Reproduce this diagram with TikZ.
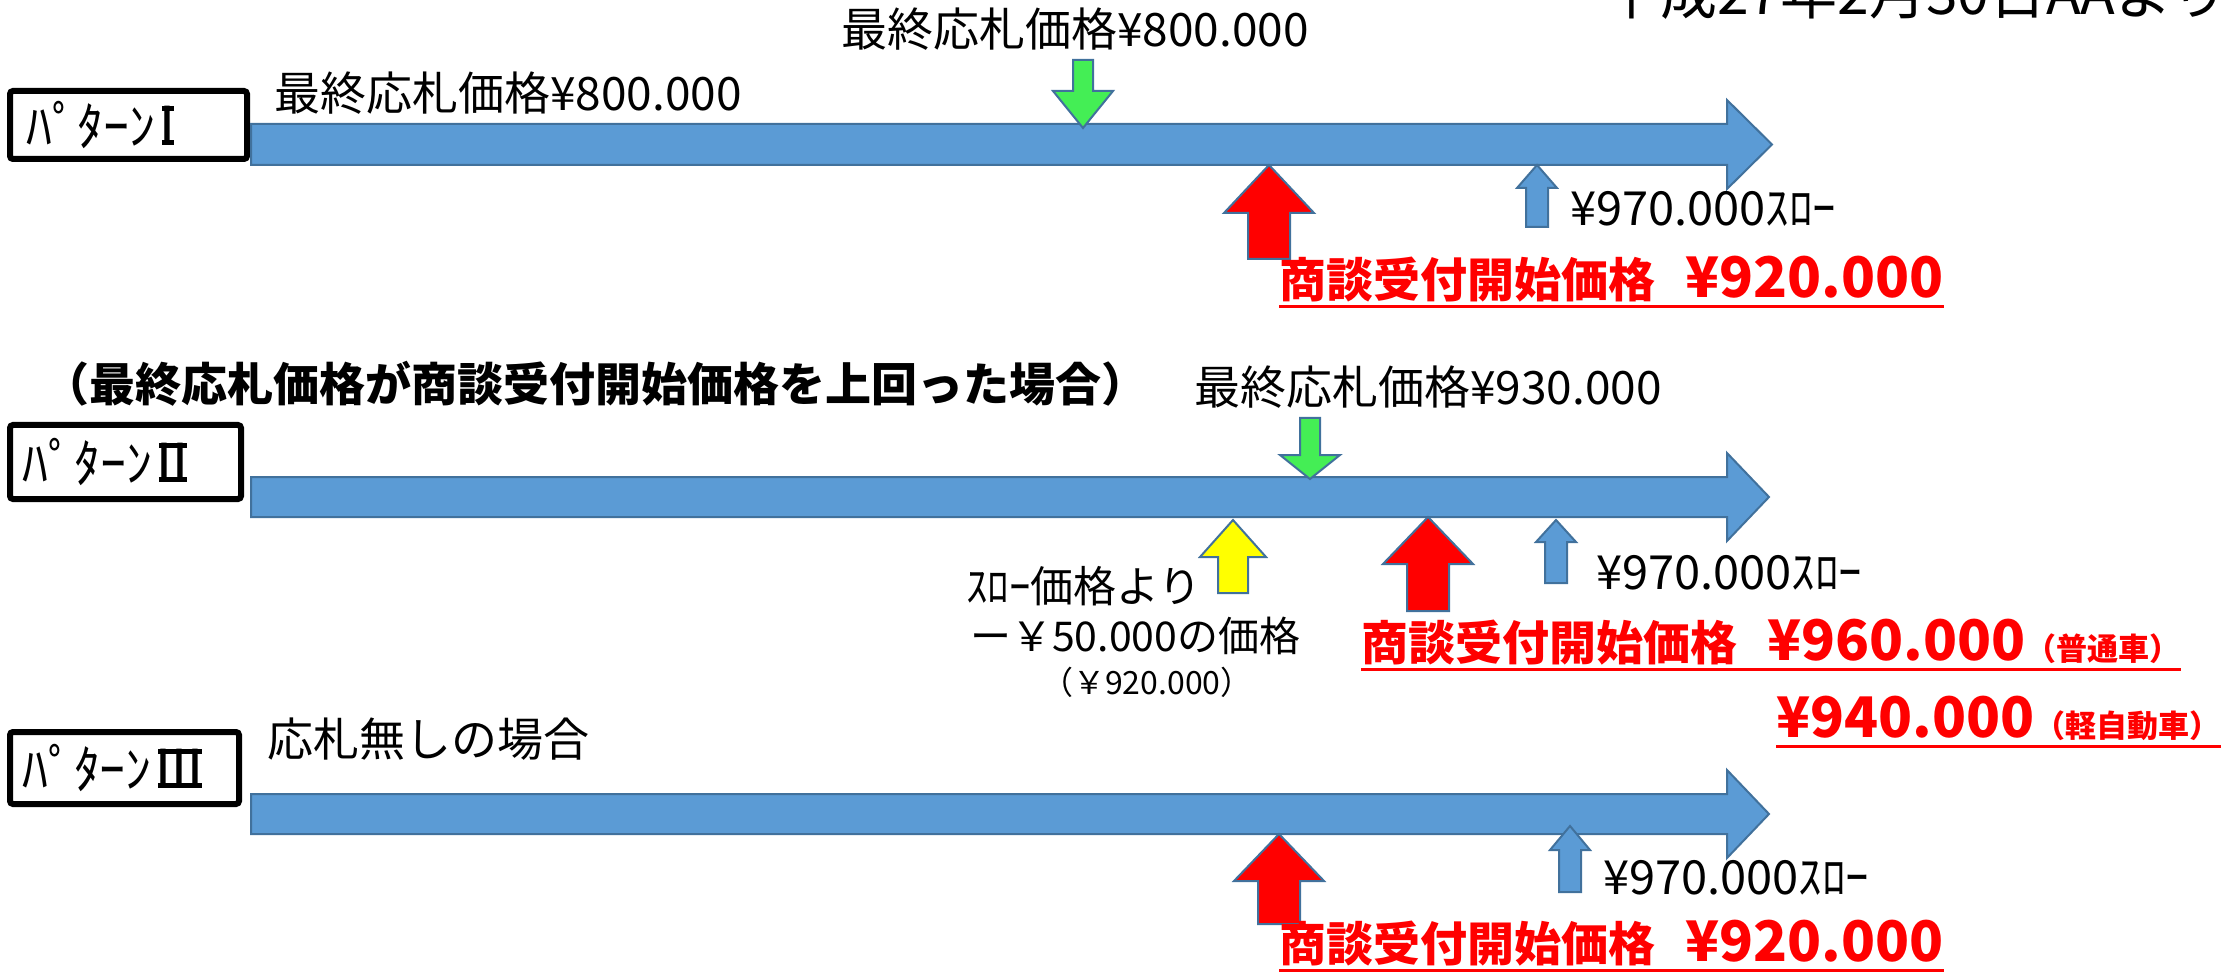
\documentclass[tikz,border=0pt]{standalone}
\usepackage{fontspec}
\setmainfont{Noto Sans CJK JP}
\newfontfamily\romfont{DejaVu Sans}
\definecolor{barblue}{HTML}{5B9BD5}
\definecolor{edgeblue}{HTML}{41719C}
\definecolor{grn}{HTML}{44EE55}
\definecolor{ylw}{HTML}{FFFF00}
\definecolor{rd}{HTML}{FF0000}
\tikzset{
  lbl/.style={anchor=base west, inner sep=0pt, font=\fontsize{46}{50}\selectfont},
  slowlbl/.style={anchor=base west, inner sep=0pt, font=\fontsize{47}{52}\selectfont},
  redtxt/.style={anchor=base west, inner sep=0pt, text=rd, font=\bfseries\fontsize{47}{52}\selectfont},
  uline/.style={draw=rd, line width=3pt},
  patbox/.style={draw, line width=6pt, rounded corners=3pt, inner sep=0pt,
    text width=205pt, align=left, font=\fontsize{52}{56}\selectfont},
  blockshape/.style={draw=edgeblue, line width=2pt, line join=miter},
}
% block arrow: cx, tip y, head base y, tail y, head half width, shaft half width, fill
\newcommand\blockup[7]{%
  \filldraw[blockshape, fill=#7] (#1-#6,#4) -- (#1-#6,#3) -- (#1-#5,#3) -- (#1,#2)
    -- (#1+#5,#3) -- (#1+#6,#3) -- (#1+#6,#4) -- cycle;}
% big bar: x0, shaft end x, tip x, shaft top, shaft bottom, head top, head bottom, tip y
\newcommand\bigbar[8]{%
  \filldraw[blockshape, fill=barblue] (#1,#4) -- (#2,#4) -- (#2,#6) -- (#3,#8)
    -- (#2,#7) -- (#2,#5) -- (#1,#5) -- cycle;}
\newcommand\bigd[1]{{\fontsize{56}{60}\selectfont #1}}
\newcommand\smallp[1]{{\fontsize{31}{36}\selectfont #1}}
% Roman numeral with top and bottom bars, as printed in the reference
\newcommand\patnum[1]{\hspace{6pt}{\romfont\fontsize{54}{58}\selectfont
  \setbox0\hbox{\kern-2pt#1\kern-2pt}%
  \rlap{\rule{\wd0}{5pt}}\rlap{\rule[34.4pt]{\wd0}{5pt}}\box0}}
\begin{document}
\begin{tikzpicture}[x=1pt,y=-1pt]
\useasboundingbox (0,0) rectangle (2228,973);
\begin{scope}
\clip (0,0) rectangle (2228,973);
\node[anchor=base west, inner sep=0pt, font=\fontsize{57}{60}\selectfont] (date) at (1603,15) {平成27年2月30日AAより};
\end{scope}

% ---------- Pattern I ----------
\node[patbox, minimum width=237pt, minimum height=68pt] (p1) at (128.5,125) {ﾊﾟﾀｰﾝ\patnum{I}};
\bigbar{251}{1727}{1772}{124}{165}{100}{189}{144.5}
\node[lbl] (l1a) at (274,111) {最終応札価格¥800.000};
\node[lbl] (l1b) at (841,47) {最終応札価格¥800.000};
\blockup{1083}{128}{91}{60}{30}{10}{grn}
\blockup{1269}{165}{213}{259}{45}{21}{rd}
\blockup{1537}{165}{188}{227}{20}{11}{barblue}
\node[slowlbl] (s1) at (1570,226) {¥970.000ｽﾛｰ};
\node[redtxt] (r1) at (1279,298) {商談受付開始価格\hspace{30pt}\bigd{¥920.000}};
\draw[uline] ([yshift=-9pt]r1.base west) -- ([yshift=-9pt]r1.base east);

% ---------- Pattern II ----------
\node[anchor=base west, inner sep=0pt, font=\bfseries\fontsize{46}{50}\selectfont] (h2) at (43,402) {（最終応札価格が商談受付開始価格を上回った場合）};
\node[lbl] (l2b) at (1194,405) {最終応札価格¥930.000};
\node[patbox, minimum width=231pt, minimum height=74pt] (p2) at (125.5,462) {ﾊﾟﾀｰﾝ\patnum{II}};
\bigbar{251}{1727}{1769}{477}{517}{453}{541}{497}
\blockup{1310}{479}{455}{418}{30}{10}{grn}
\blockup{1233}{520}{557}{593}{33}{15}{ylw}
\blockup{1428}{517}{564}{611}{45}{21}{rd}
\blockup{1556}{520}{542}{583}{20}{11}{barblue}
\node[slowlbl] (s2) at (1596,589) {¥970.000ｽﾛｰ};
\node[anchor=base west, inner sep=0pt, font=\fontsize{43}{48}\selectfont] (y1) at (966,602) {ｽﾛｰ価格より};
\node[anchor=base west, inner sep=0pt, font=\fontsize{41}{46}\selectfont] (y2) at (970,651) {ー￥50.000の価格};
\node[anchor=base west, inner sep=0pt, font=\fontsize{32}{36}\selectfont] (y3) at (1041,694) {（￥920.000）};
\node[redtxt] (r2) at (1361,660) {商談受付開始価格\hspace{30pt}\bigd{¥960.000}\smallp{（普通車）}};
\draw[uline] ([yshift=-9pt]r2.base west) -- ([yshift=-9pt]r2.base east);
\node[redtxt] (r2b) at (1776,737) {\bigd{¥940.000}\smallp{（軽自動車）}};
\draw[uline] ([yshift=-9pt]r2b.base west) -- ([yshift=-9pt]r2b.base east);

% ---------- Pattern III ----------
\node[patbox, minimum width=229pt, minimum height=72pt] (p3) at (124.5,768) {ﾊﾟﾀｰﾝ\patnum{III}};
\node[lbl] (l3) at (267,756) {応札無しの場合};
\bigbar{251}{1727}{1769}{794}{834}{770}{858}{814}
\blockup{1279}{834}{881}{924}{45}{21}{rd}
\blockup{1570}{826}{850}{892}{20}{11}{barblue}
\node[slowlbl] (s3) at (1603,894) {¥970.000ｽﾛｰ};
\node[redtxt] (r3) at (1279,961) {商談受付開始価格\hspace{30pt}\bigd{¥920.000}};
\draw[uline] ([yshift=-9pt]r3.base west) -- ([yshift=-9pt]r3.base east);
\end{tikzpicture}
\end{document}
